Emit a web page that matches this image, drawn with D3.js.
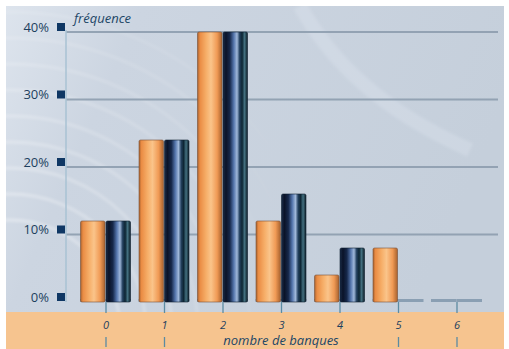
<!DOCTYPE html>
<html>
<head>
<meta charset="utf-8">
<script src="https://cdn.jsdelivr.net/npm/d3@7"></script>
<style>
  html, body { margin: 0; padding: 0; background: #ffffff; }
  svg { display: block; }
</style>
</head>
<body>
<svg id="chart" width="509" height="349"></svg>
<script>
// Number of banks per customer: share of respondents, two survey series
const categories = ["0", "1", "2", "3", "4", "5", "6"];
const seriesNames = ["serieA", "serieB"];
const serieA = [12, 24, 40, 12, 4, 8, 0];
const serieB = [12, 24, 40, 16, 8, 0, 0];
const yTicks = [0, 10, 20, 30, 40];
const yTickLabels = ["0%", "10%", "20%", "30%", "40%"];
const yTitle = "fréquence";
const xTitle = "nombre de banques";

const svg = d3.select("#chart");
const frame = { left: 6, top: 6, right: 504, bottom: 349 };
const plot = { left: 66, right: 498, top: 32, base: 302 };
const bandTop = 312;

const defs = svg.append("defs");

// background tint
const bg = defs.append("linearGradient").attr("id", "bgGrad")
  .attr("x1", "0").attr("y1", "0").attr("x2", "1").attr("y2", "0.3");
bg.append("stop").attr("offset", "0%").attr("stop-color", "#dde4ed");
bg.append("stop").attr("offset", "25%").attr("stop-color", "#ccd5e1");
bg.append("stop").attr("offset", "100%").attr("stop-color", "#c5cfdb");

const blur = defs.append("filter").attr("id", "soft")
  .attr("x", "-20%").attr("y", "-20%").attr("width", "140%").attr("height", "140%");
blur.append("feGaussianBlur").attr("stdDeviation", 1.4);

// arcs fade out towards the right
const fade = defs.append("linearGradient").attr("id", "fadeGrad")
  .attr("gradientUnits", "userSpaceOnUse")
  .attr("x1", 0).attr("y1", 0).attr("x2", 300).attr("y2", 0);
fade.append("stop").attr("offset", "0%").attr("stop-color", "#fff").attr("stop-opacity", 1);
fade.append("stop").attr("offset", "60%").attr("stop-color", "#fff").attr("stop-opacity", 0.6);
fade.append("stop").attr("offset", "100%").attr("stop-color", "#fff").attr("stop-opacity", 0);
defs.append("mask").attr("id", "fadeMask")
  .append("rect").attr("x", 0).attr("y", 0).attr("width", 509).attr("height", 349)
  .attr("fill", "url(#fadeGrad)");

const clip = defs.append("clipPath").attr("id", "frameClip");
clip.append("rect").attr("x", frame.left).attr("y", frame.top)
  .attr("width", frame.right - frame.left).attr("height", frame.bottom - frame.top);

// orange cylinder shading
const gA = defs.append("linearGradient").attr("id", "gradA")
  .attr("x1", "0").attr("y1", "0").attr("x2", "1").attr("y2", "0");
[["0%", "#a8622e"], ["10%", "#ea8c44"], ["35%", "#f6ae68"], ["55%", "#fac48a"],
 ["80%", "#f09a55"], ["100%", "#a8622e"]]
  .forEach(([o, c]) => gA.append("stop").attr("offset", o).attr("stop-color", c));

// dark blue cylinder shading
const gB = defs.append("linearGradient").attr("id", "gradB")
  .attr("x1", "0").attr("y1", "0").attr("x2", "1").attr("y2", "0");
[["0%", "#1b2c48"], ["12%", "#0a1328"], ["28%", "#16284a"], ["44%", "#5576ad"],
 ["57%", "#a0b8da"], ["68%", "#23405e"], ["78%", "#0d2533"], ["88%", "#437080"],
 ["100%", "#0c1c26"]]
  .forEach(([o, c]) => gB.append("stop").attr("offset", o).attr("stop-color", c));

const root = svg.append("g").attr("clip-path", "url(#frameClip)");

// backdrop
root.append("rect").attr("x", frame.left).attr("y", frame.top)
  .attr("width", frame.right - frame.left).attr("height", frame.bottom - frame.top)
  .attr("fill", "url(#bgGrad)");

// soft swirling arcs in the backdrop
const swirl = root.append("g").attr("filter", "url(#soft)").attr("mask", "url(#fadeMask)");
d3.range(0, 9).forEach(i => {
  swirl.append("circle")
    .attr("cx", 10).attr("cy", 330)
    .attr("r", 110 + i * 26)
    .attr("fill", "none")
    .attr("stroke", "#ffffff")
    .attr("stroke-width", 3)
    .attr("stroke-opacity", 0.4 - i * 0.03);
});
root.append("path")
  .attr("d", "M300,6 C330,60 380,110 470,150")
  .attr("filter", "url(#soft)")
  .attr("fill", "none").attr("stroke", "#e2e9f2").attr("stroke-width", 14)
  .attr("stroke-opacity", 0.3);

// bottom band
root.append("rect").attr("x", frame.left).attr("y", bandTop)
  .attr("width", frame.right - frame.left).attr("height", frame.bottom - bandTop)
  .attr("fill", "#f6c48f");

// scales
const x = d3.scalePoint().domain(categories).range([106, 457]);
const xSub = d3.scaleBand().domain(seriesNames).range([-26, 25]).padding(0);
const y = d3.scaleLinear().domain([0, 40]).range([plot.base, plot.top]);

// gridlines
root.append("g").selectAll("line")
  .data(yTicks.filter(t => t > 0))
  .join("line")
  .attr("x1", plot.left).attr("x2", plot.right)
  .attr("y1", d => y(d)).attr("y2", d => y(d))
  .attr("stroke", "#8a9aab").attr("stroke-width", 2).attr("stroke-opacity", 0.85);

// vertical axis line
root.append("line")
  .attr("x1", plot.left).attr("x2", plot.left)
  .attr("y1", plot.top - 2).attr("y2", plot.base)
  .attr("stroke", "#a9c2d3").attr("stroke-width", 1.5);

// y tick markers and labels
const yAxis = root.append("g");
yAxis.selectAll("rect")
  .data(yTicks)
  .join("rect")
  .attr("x", 57).attr("y", d => y(d) - 9)
  .attr("width", 8).attr("height", 8)
  .attr("fill", "#0f3764");
yAxis.selectAll("text")
  .data(yTicks)
  .join("text")
  .attr("x", 49).attr("y", d => y(d) - 5)
  .attr("dy", "0.35em")
  .attr("text-anchor", "end")
  .attr("font-family", "'Open Sans', sans-serif")
  .attr("font-size", 13)
  .attr("fill", "#1d3f5e")
  .text((d, i) => yTickLabels[i]);

root.append("text")
  .attr("x", 74).attr("y", 23)
  .attr("font-family", "'Open Sans', sans-serif")
  .attr("font-style", "italic")
  .attr("font-size", 13)
  .attr("fill", "#1d4766")
  .text(yTitle);

// category ticks above the band
root.append("g").selectAll("line")
  .data(categories)
  .join("line")
  .attr("x1", d => x(d)).attr("x2", d => x(d))
  .attr("y1", plot.base).attr("y2", bandTop + 1)
  .attr("stroke", "#5b8ba2").attr("stroke-width", 1.3);

// bars
const rows = categories.map((c, i) => ({ cat: c, values: [
  { key: "serieA", v: serieA[i] }, { key: "serieB", v: serieB[i] }
]}));

const groups = root.append("g").selectAll("g")
  .data(rows)
  .join("g")
  .attr("transform", d => `translate(${x(d.cat)},0)`);

// flat base under every bar (visible where the value is zero)
groups.selectAll("rect.base")
  .data(d => d.values)
  .join("rect")
  .attr("class", "base")
  .attr("x", d => xSub(d.key)).attr("width", xSub.bandwidth())
  .attr("y", plot.base - 3).attr("height", 3)
  .attr("fill", "#8a9fb3");

groups.selectAll("rect.bar")
  .data(d => d.values.filter(v => v.v > 0))
  .join("rect")
  .attr("class", "bar")
  .attr("x", d => xSub(d.key) + 0.5)
  .attr("width", xSub.bandwidth() - 1)
  .attr("y", d => y(d.v))
  .attr("height", d => plot.base - y(d.v))
  .attr("rx", 1.5)
  .attr("fill", d => d.key === "serieA" ? "url(#gradA)" : "url(#gradB)")
  .attr("stroke", d => d.key === "serieA" ? "#7a5038" : "#0f2030")
  .attr("stroke-opacity", 0.6)
  .attr("stroke-width", 1);

// category labels
root.append("g").selectAll("text")
  .data(categories)
  .join("text")
  .attr("x", d => x(d)).attr("y", 329)
  .attr("text-anchor", "middle")
  .attr("font-family", "'Open Sans', sans-serif")
  .attr("font-style", "italic")
  .attr("font-size", 11)
  .attr("fill", "#1d3f5e")
  .text(d => d);

// axis title
const title = root.append("text")
  .attr("x", 281).attr("y", 345)
  .attr("text-anchor", "middle")
  .attr("font-family", "'Open Sans', sans-serif")
  .attr("font-style", "italic")
  .attr("font-size", 13)
  .attr("fill", "#1d4766")
  .text(xTitle);

// lower ticks, left out where the title sits
const tb = title.node().getBBox();
root.append("g").selectAll("line")
  .data(categories.filter(c => x(c) < tb.x - 2 || x(c) > tb.x + tb.width + 2))
  .join("line")
  .attr("x1", d => x(d)).attr("x2", d => x(d))
  .attr("y1", 337).attr("y2", 347)
  .attr("stroke", "#5b8ba2").attr("stroke-width", 1.3);
</script>
</body>
</html>
